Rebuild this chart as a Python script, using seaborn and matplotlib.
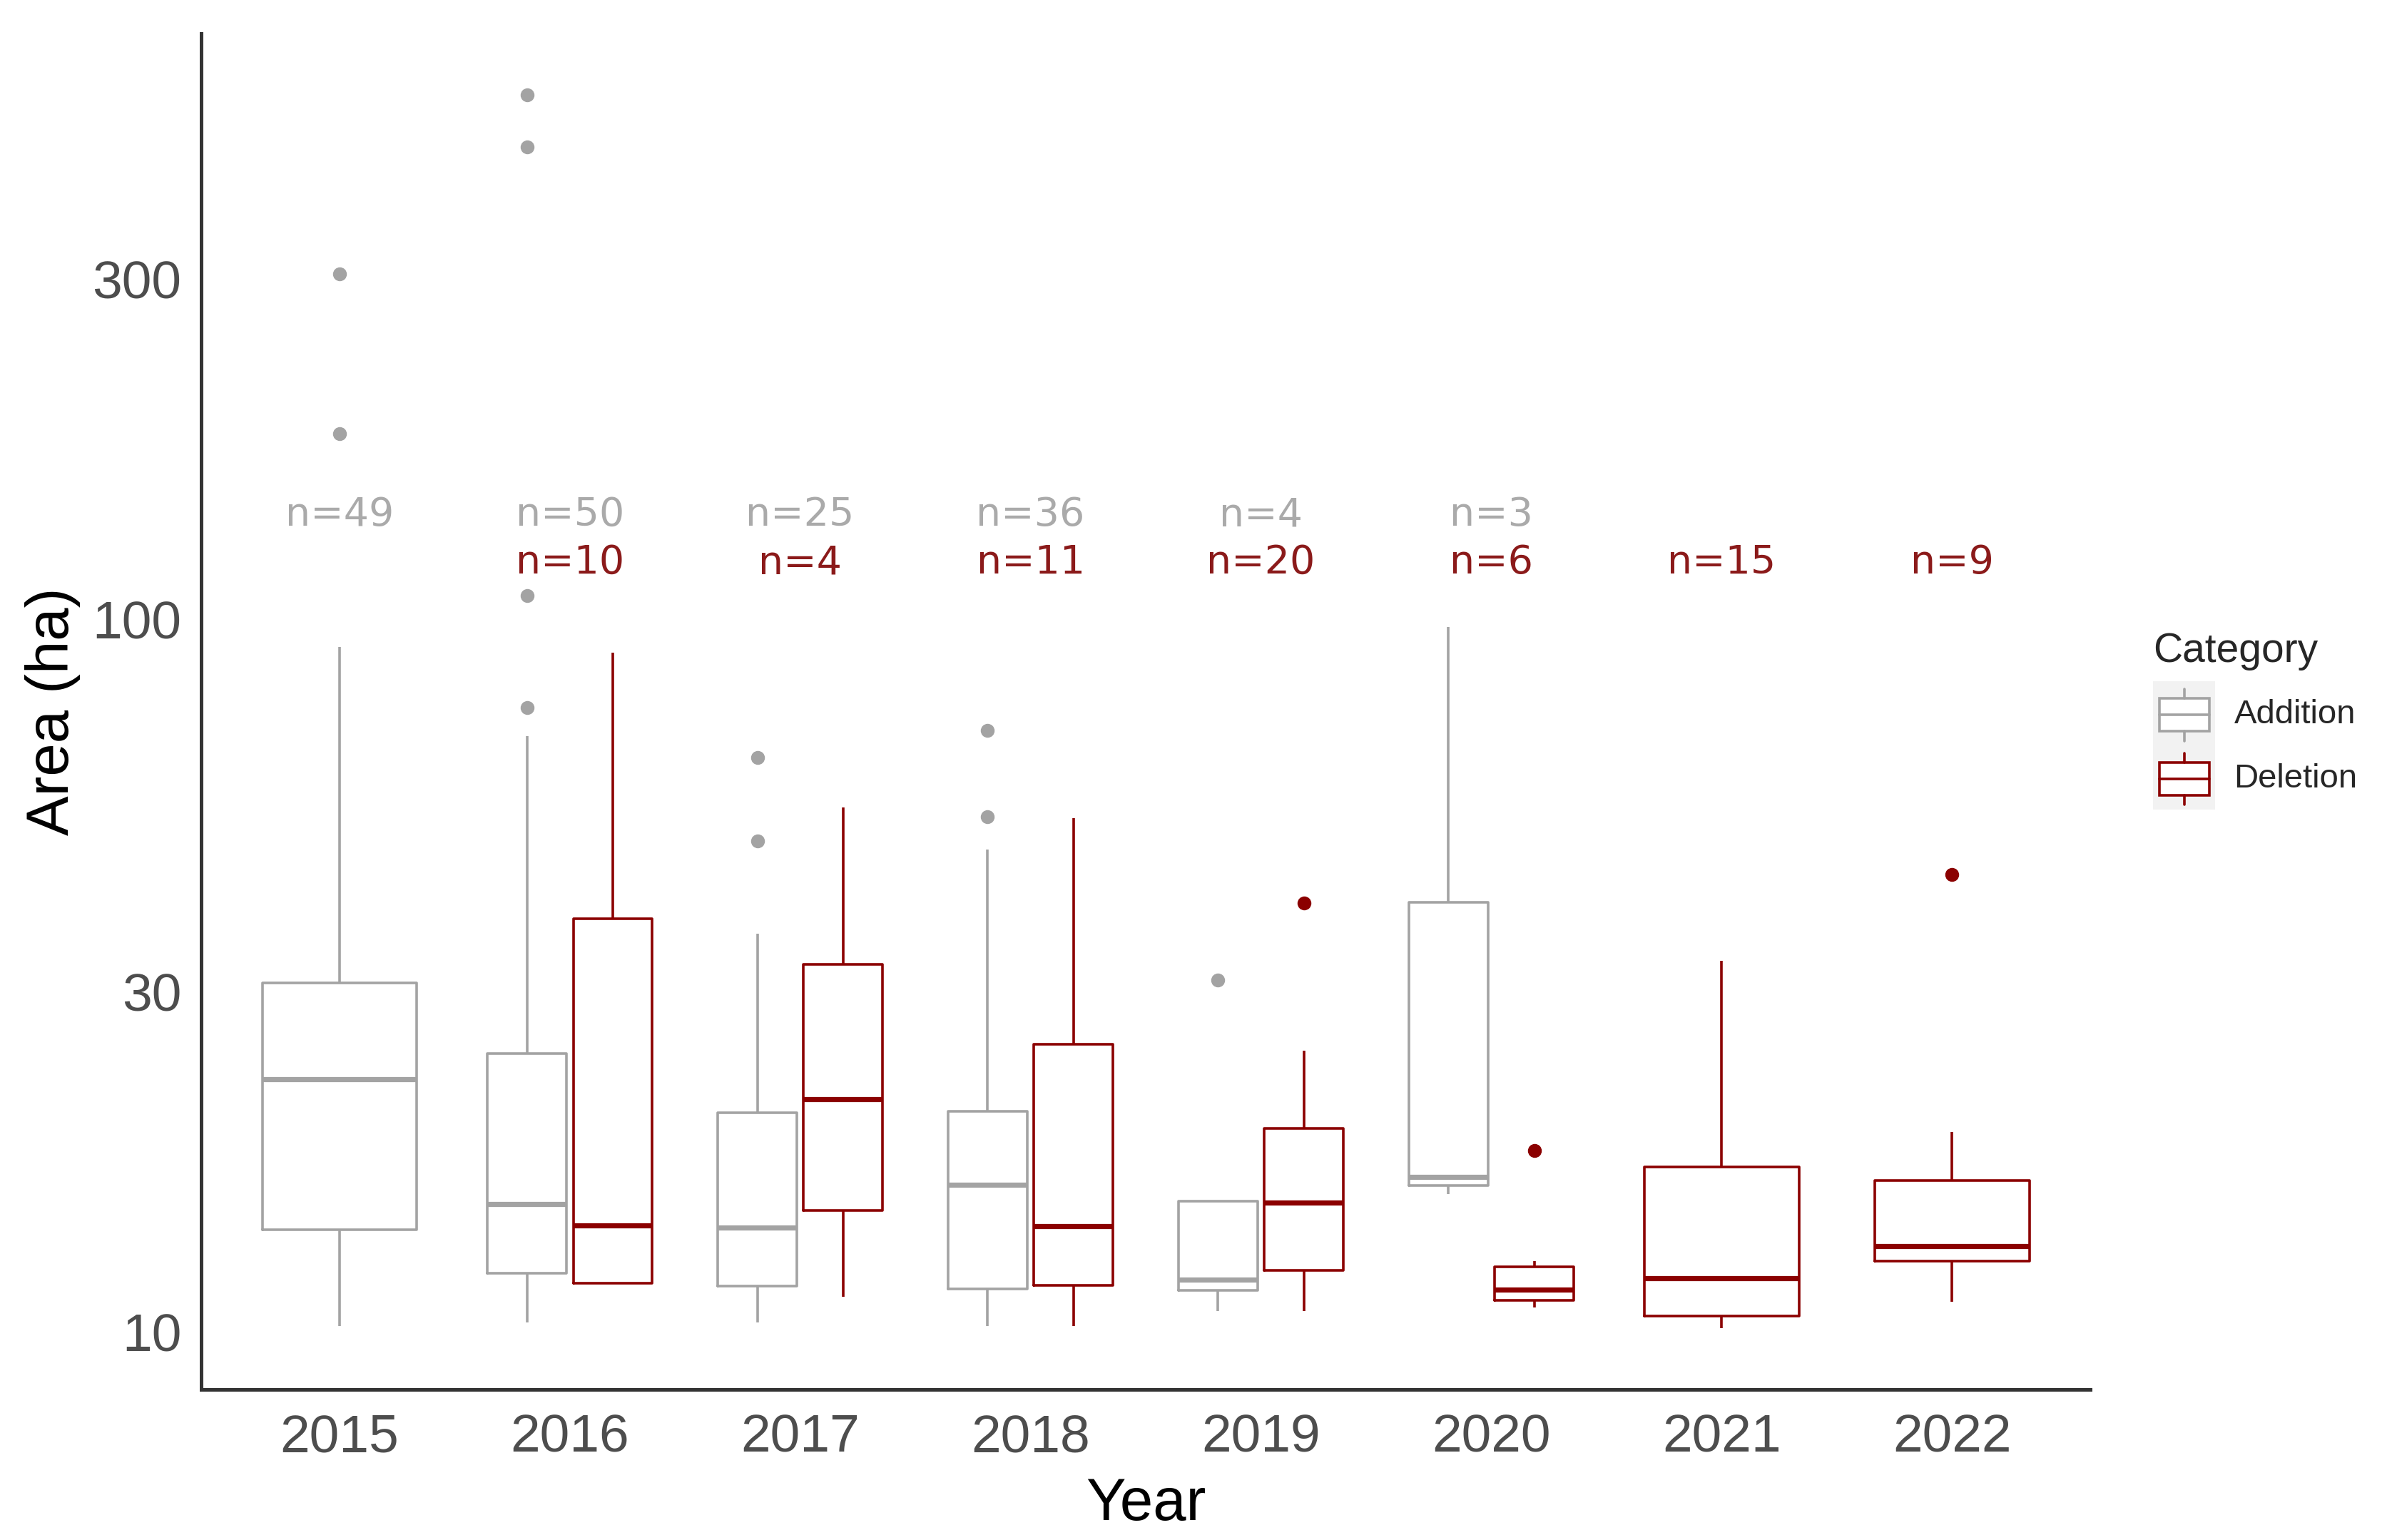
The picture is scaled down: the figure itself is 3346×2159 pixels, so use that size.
import pandas as pd
import matplotlib
matplotlib.use('Agg')
import matplotlib.pyplot as plt
import seaborn as sns
from matplotlib.legend_handler import HandlerBase
from matplotlib.patches import Rectangle, Patch
from matplotlib.lines import Line2D

years = ['2015', '2016', '2017', '2018', '2019', '2020', '2021', '2022']
categories = ['Addition', 'Deletion']

# areas (ha): whisker ends, quartiles, medians, outliers
add_2015 = [10.2, 11.5, 12.8, 13.9, 16.0, 19.5, 22.6, 25.0, 28.0, 30.9, 91.5, 182, 305]
add_2016 = [10.3, 10.8, 11.2, 11.5, 11.8, 12.1, 12.6, 13.2, 13.9, 14.5, 15.1,
            16.5, 18.0, 20.0, 22.5, 24.6, 68.5, 75.2, 108, 460, 544]
add_2017 = [10.3, 10.8, 11.2, 11.6, 12.3, 13.1, 14.0, 15.5, 17.5, 20.3, 36.2, 48.8, 64.0]
add_2018 = [10.2, 10.7, 11.1, 11.5, 12.8, 14.5, 16.1, 17.5, 19.0, 20.4, 47.5, 52.8, 69.9]
add_2019 = [10.7, 11.7, 12.0, 31.2]
add_2020 = [15.6, 16.5, 97.5]

del_2016 = [11.7, 11.7, 14.1, 38.0, 89.8]
del_2017 = [11.2, 14.8, 21.2, 32.8, 54.4]
del_2018 = [10.2, 11.63, 14.06, 25.3, 52.6]
del_2019 = [10.7, 11.5, 12.2, 13.8, 15.2, 17.0, 19.3, 24.8, 40.0]
del_2020 = [10.82, 11.03, 11.24, 11.69, 12.58, 17.96]
del_2021 = [10.12, 10.52, 11.88, 17.03, 33.2]
del_2022 = [11.03, 12.0, 12.58, 12.9, 13.2, 14.8, 16.32, 19.06, 43.8]

# sample sizes printed above the boxes
add_n = [49, 50, 25, 36, 4, 3, None, None]
del_n = [None, 10, 4, 11, 20, 6, 15, 9]

groups = {
    ('2015', 'Addition'): add_2015, ('2016', 'Addition'): add_2016,
    ('2017', 'Addition'): add_2017, ('2018', 'Addition'): add_2018,
    ('2019', 'Addition'): add_2019, ('2020', 'Addition'): add_2020,
    ('2016', 'Deletion'): del_2016, ('2017', 'Deletion'): del_2017,
    ('2018', 'Deletion'): del_2018, ('2019', 'Deletion'): del_2019,
    ('2020', 'Deletion'): del_2020, ('2021', 'Deletion'): del_2021,
    ('2022', 'Deletion'): del_2022,
}
rows = [(y, c, v) for (y, c), vals in groups.items() for v in vals]
df = pd.DataFrame(rows, columns=['Year', 'Category', 'Area'])
df['n_cat'] = df.groupby('Year')['Category'].transform('nunique')
both = df[df['n_cat'] == 2]
single = df[df['n_cat'] == 1]

palette = {'Addition': '#A3A3A3', 'Deletion': '#8B0000'}
lw = 1.3


class BoxKey(HandlerBase):
    """ggplot-like boxplot key on a grey square."""
    def create_artists(self, legend, orig_handle, xdescent, ydescent, width, height, fontsize, trans):
        c = orig_handle.get_edgecolor()
        x0, y0 = -xdescent, -ydescent
        h = height
        bg = Rectangle((x0, y0), width, h, facecolor='#F2F2F2', edgecolor='none', transform=trans)
        box = Rectangle((x0 + 0.1 * width, y0 + 0.22 * h), 0.8 * width, 0.51 * h,
                        facecolor='white', edgecolor=c, linewidth=lw, transform=trans)
        mid = x0 + width / 2
        w_hi = Line2D([mid, mid], [y0 + 0.73 * h, y0 + 0.88 * h], color=c, lw=lw, transform=trans)
        w_lo = Line2D([mid, mid], [y0 + 0.07 * h, y0 + 0.22 * h], color=c, lw=lw, transform=trans)
        med = Line2D([x0 + 0.1 * width, x0 + 0.9 * width], [y0 + 0.48 * h] * 2, color=c, lw=lw, transform=trans)
        return [bg, box, w_hi, w_lo, med]


sns.set_style('white')
plt.rcParams['font.family'] = ['Liberation Sans', 'DejaVu Sans']

fig, ax = plt.subplots(figsize=(16.73, 10.795), dpi=200)
fig.subplots_adjust(left=0.0843, right=0.8757, bottom=0.0977, top=0.978)

box_kws = dict(x='Year', y='Area', hue='Category', order=years, hue_order=categories,
               palette=palette, saturation=1, fill=False, log_scale=True, linewidth=lw,
               fliersize=6, showcaps=False, medianprops=dict(linewidth=lw * 2),
               flierprops=dict(marker='o'), legend=False, ax=ax)
sns.boxplot(data=both, width=0.745, gap=0.08, dodge=True, **box_kws)
sns.boxplot(data=single, width=0.67, dodge=False, **box_kws)

# filled outlier dots
for line in ax.lines:
    if line.get_marker() == 'o':
        line.set_markerfacecolor(line.get_markeredgecolor())

for i, (na, nd) in enumerate(zip(add_n, del_n)):
    if na:
        ax.text(i, 140, f'n={na}', ha='center', va='center', fontsize=20,
                color='#AAAAAA', family='DejaVu Sans')
    if nd:
        ax.text(i, 120, f'n={nd}', ha='center', va='center', fontsize=20,
                color='#8B1A1A', family='DejaVu Sans')

ax.set_ylim(8.3, 663)
ax.set_xlim(-0.6, 7.6)
ax.set_yticks([10, 30, 100, 300], labels=['10', '30', '100', '300'])
ax.minorticks_off()
ax.set_xlabel('Year', fontsize=30, color='black', labelpad=7)
ax.set_ylabel('Area (ha)', fontsize=30, color='black', labelpad=6)
ax.tick_params(axis='both', labelsize=27, labelcolor='#4D4D4D', color='#333333',
               length=4, width=1, direction='out', pad=6)
ax.tick_params(axis='x', pad=8)
for side in ['top', 'right']:
    ax.spines[side].set_visible(False)
for side in ['left', 'bottom']:
    ax.spines[side].set_color('#333333')
    ax.spines[side].set_linewidth(1.8)

handles = [Patch(edgecolor=palette[c], facecolor='white', label=c) for c in categories]
leg = fig.legend(handles=handles, labels=categories, title='Category', loc='center left',
                 bbox_to_anchor=(0.902, 0.532), frameon=False, handler_map={Patch: BoxKey()},
                 fontsize=17, title_fontsize=20.5, handlelength=1.85, handleheight=2.55,
                 labelspacing=0, handletextpad=0.55, borderaxespad=0, borderpad=0,
                 alignment='left')
leg._legend_box.sep = 5.4  # a little air under the title

fig.savefig('out.png', dpi=200)
